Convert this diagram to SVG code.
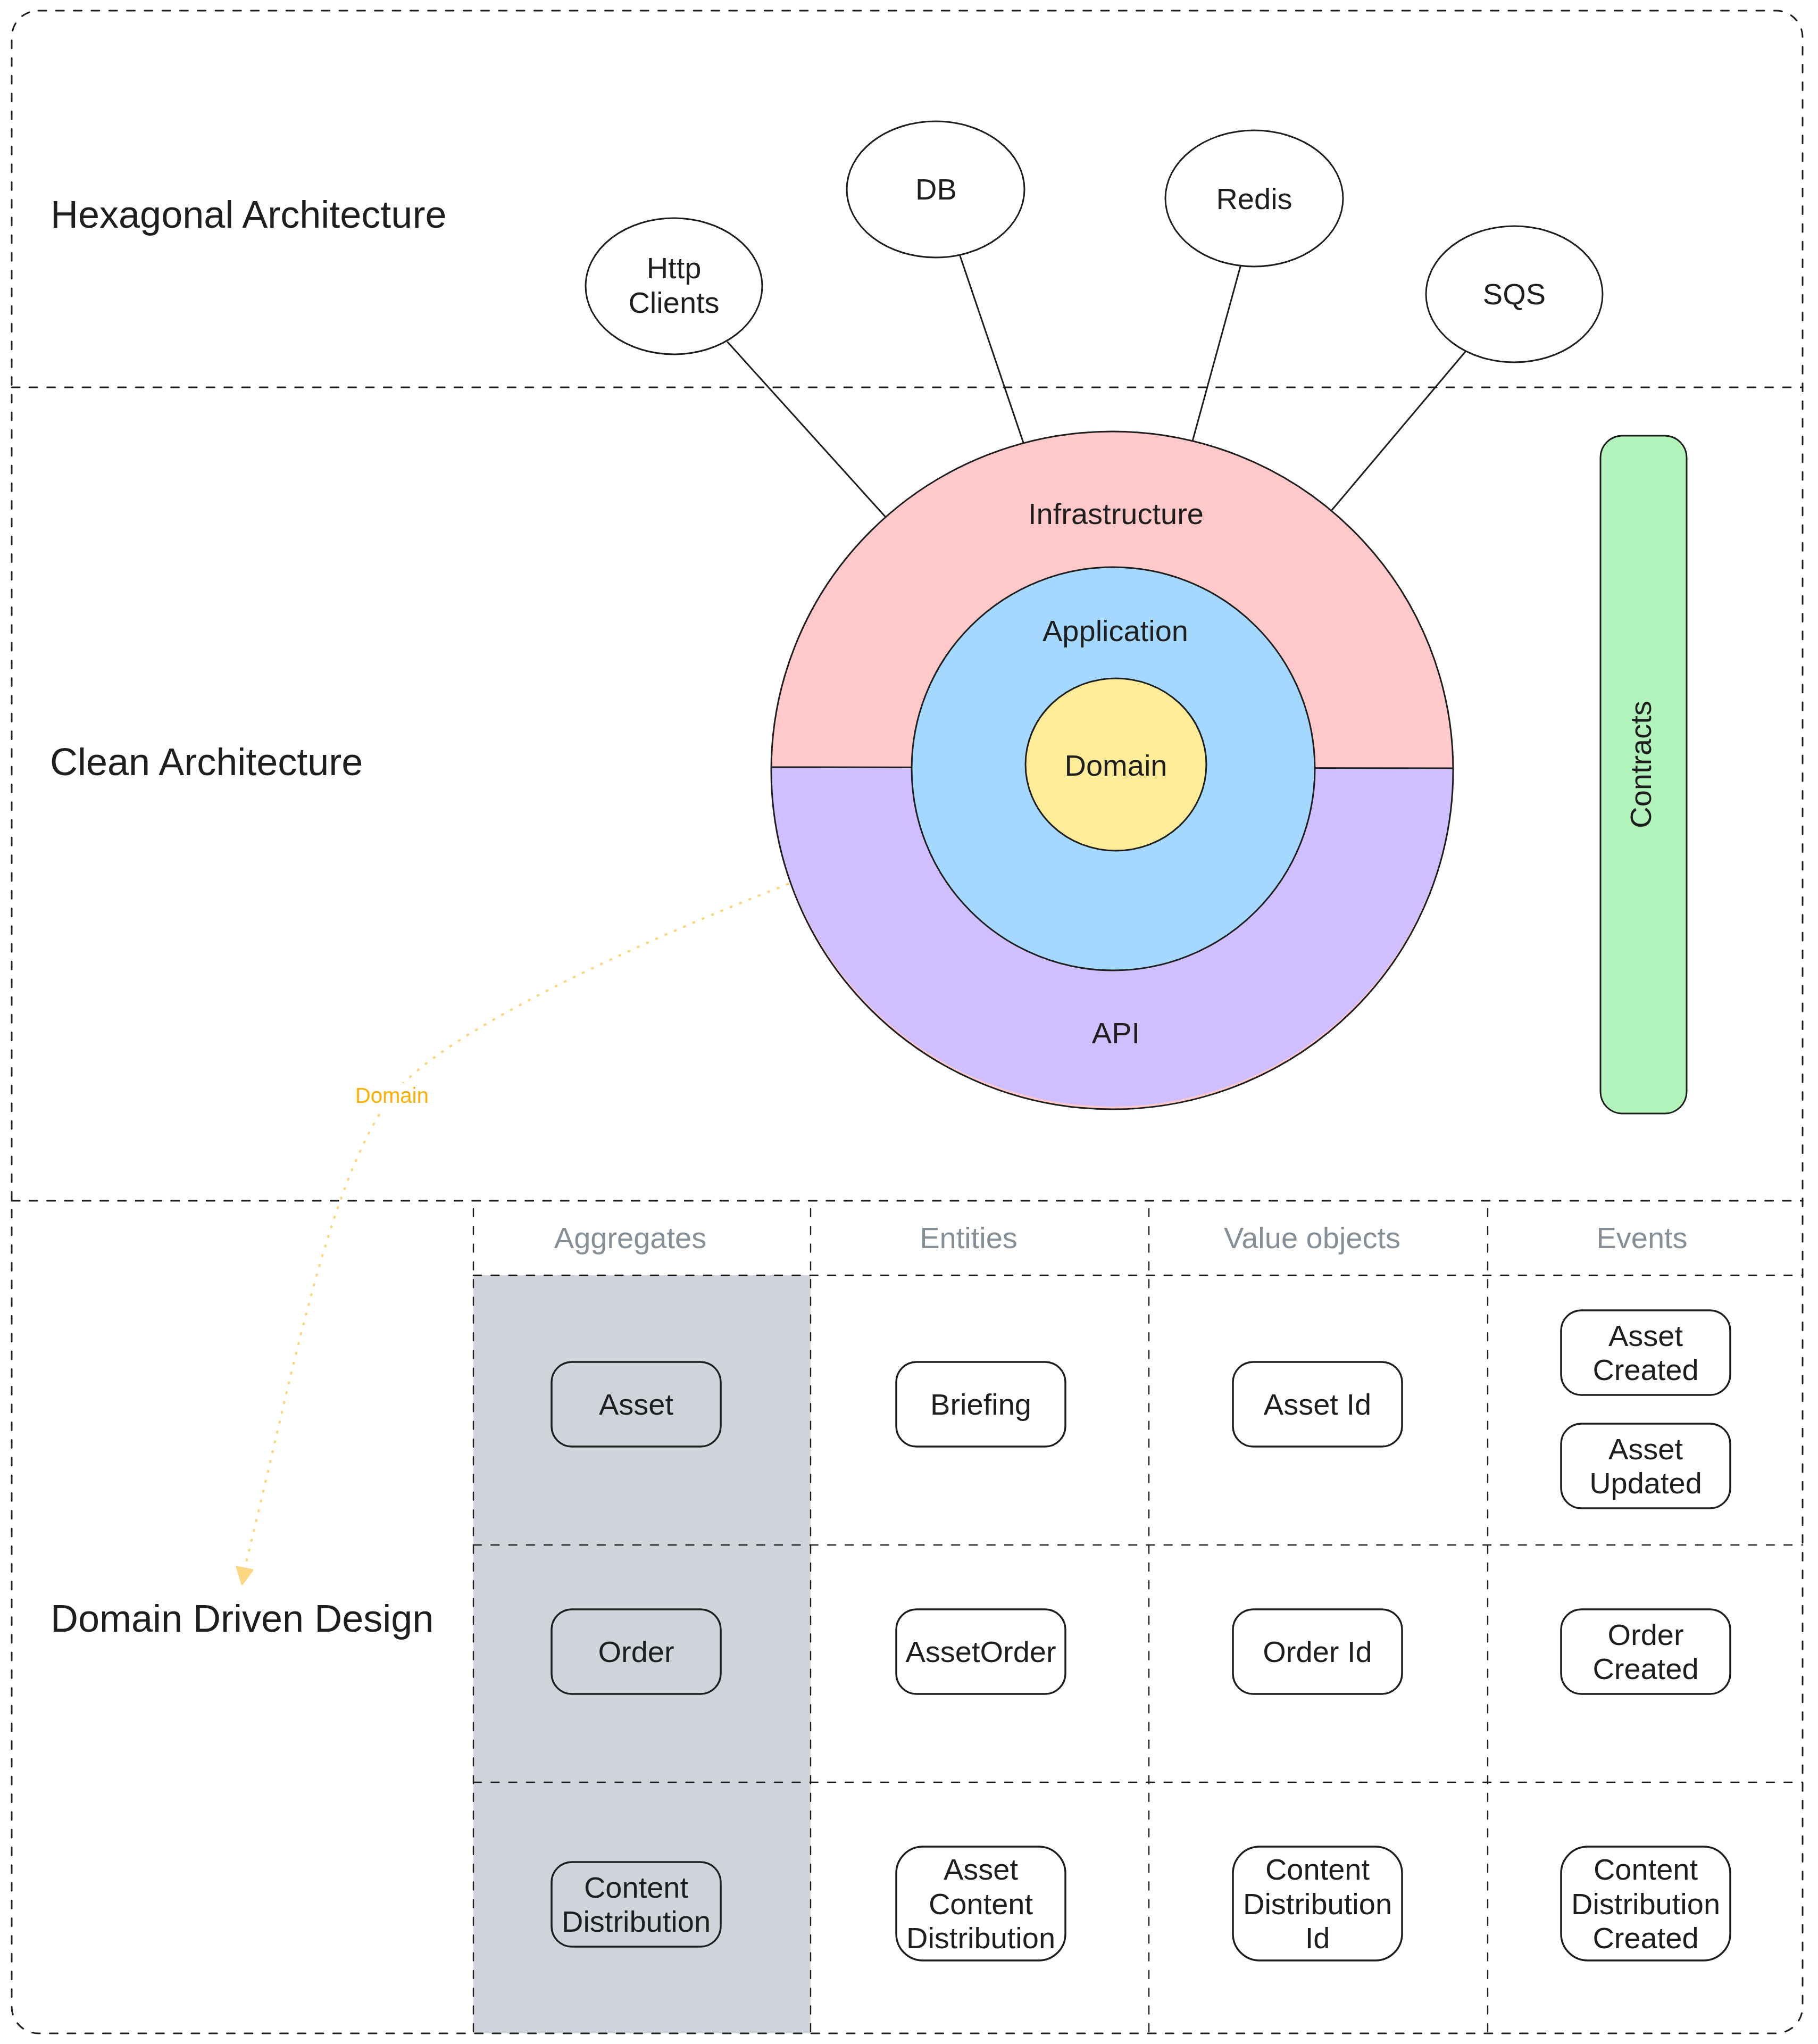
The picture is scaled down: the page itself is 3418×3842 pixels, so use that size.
<svg xmlns="http://www.w3.org/2000/svg" width="3418" height="3842" viewBox="0 0 3418 3842">
<style>
.t{font-family:"Liberation Sans",Arial,Helvetica,sans-serif;fill:#1e1e1e}
.big{font-size:72px}
.m{font-size:56px;text-anchor:middle}
.hd{font-size:56px;text-anchor:middle;fill:#868e96}
.sec{fill:none;stroke:#1e1e1e;stroke-width:3;stroke-dasharray:15 18.3;stroke-linecap:round}
.grid{fill:none;stroke:#1e1e1e;stroke-width:2.4;stroke-dasharray:15 18.3;stroke-linecap:round}
.sh{stroke:#1e1e1e;stroke-width:3}
.box{fill:#ffffff;stroke:#1e1e1e;stroke-width:3.5}
.gbox{fill:#ced4da;stroke:#1e1e1e;stroke-width:3.5}
.ln{stroke:#1e1e1e;stroke-width:3;fill:none;stroke-linecap:round}
</style>
<rect width="3418" height="3842" fill="#ffffff"/>

<g id="frame">
<rect x="890" y="2397" width="634" height="1425" fill="#ced4da"/>
<rect class="sec" x="22" y="20" width="3367" height="3802" rx="50"/>
<line class="sec" x1="22" y1="728" x2="3389" y2="728"/>
<line class="sec" x1="22" y1="2257" x2="3389" y2="2257"/>
</g>

<g id="grid">
<line class="grid" x1="890" y1="2272" x2="890" y2="3822"/>
<line class="grid" x1="1524" y1="2272" x2="1524" y2="3822"/>
<line class="grid" x1="2160" y1="2272" x2="2160" y2="3822"/>
<line class="grid" x1="2797" y1="2272" x2="2797" y2="3822"/>
<line class="grid" x1="890" y1="2397" x2="3389" y2="2397"/>
<line class="grid" x1="890" y1="2904" x2="3389" y2="2904"/>
<line class="grid" x1="890" y1="3350" x2="3389" y2="3350"/>
</g>

<g id="section-titles">
<text class="t big" x="95" y="428">Hexagonal Architecture</text>
<text class="t big" x="94" y="1457">Clean Architecture</text>
<text class="t big" x="95" y="3067">Domain Driven Design</text>
</g>

<g id="headers">
<text class="t hd" x="1185" y="2346">Aggregates</text>
<text class="t hd" x="1821" y="2346">Entities</text>
<text class="t hd" x="2467" y="2346">Value objects</text>
<text class="t hd" x="3087" y="2346">Events</text>
</g>

<g id="connectors">
<line class="ln" x1="1368" y1="643" x2="1666" y2="973"/>
<line class="ln" x1="1805" y1="481" x2="1924" y2="832"/>
<line class="ln" x1="2332" y1="501" x2="2242" y2="829"/>
<line class="ln" x1="2755" y1="661" x2="2503" y2="960"/>
<g id="domain-arrow" opacity="0.5">
<path d="M1481,1662 C1201,1771 828,1941 737,2060 C615,2219 545,2608 460,2948" fill="none" stroke="#fab005" stroke-width="4.5" stroke-dasharray="1.5 17.5" stroke-linecap="round"/>
<path d="M455,2978 L445,2945 L475,2951 Z" fill="#fab005" stroke="#fab005" stroke-width="3" stroke-linejoin="round"/>
</g>
<rect x="668" y="2036" width="140" height="52" fill="#ffffff"/>
<text class="t" x="737" y="2073" font-size="40" text-anchor="middle" fill="#fab005" style="fill:#fab005">Domain</text>
</g>

<g id="http-clients">
<ellipse class="sh" cx="1267" cy="538" rx="166" ry="128" fill="#ffffff"/>
<text class="t m" x="1267" y="523">Http</text>
<text class="t m" x="1267" y="588">Clients</text>
</g>
<g id="db">
<ellipse class="sh" cx="1759" cy="356" rx="167" ry="128" fill="#ffffff"/>
<text class="t m" x="1760" y="375">DB</text>
</g>
<g id="redis">
<ellipse class="sh" cx="2358" cy="373" rx="167" ry="128" fill="#ffffff"/>
<text class="t m" x="2358" y="393">Redis</text>
</g>
<g id="sqs">
<ellipse class="sh" cx="2847" cy="553" rx="166" ry="128" fill="#ffffff"/>
<text class="t m" x="2847" y="572">SQS</text>
</g>

<g id="infrastructure">
<ellipse cx="2091" cy="1448" rx="641" ry="637" fill="#ffc9c9"/>
<text class="t m" x="2098" y="985">Infrastructure</text>
</g>
<g id="api">
<path d="M1450,1443 A641,637 0 1,0 2732,1443 Z" fill="#d0bfff"/>
<ellipse class="sh" cx="2091" cy="1448" rx="641" ry="637" fill="none"/>
<line class="sh" x1="1450" y1="1442" x2="2732" y2="1444"/>
<text class="t m" x="2098" y="1961">API</text>
</g>
<g id="application">
<circle class="sh" cx="2093" cy="1445" r="379" fill="#a5d8ff"/>
<text class="t m" x="2097" y="1205">Application</text>
</g>
<g id="domain">
<ellipse class="sh" cx="2098" cy="1437" rx="170" ry="162" fill="#ffec99"/>
<text class="t m" x="2098" y="1458">Domain</text>
</g>

<g id="contracts">
<rect class="sh" x="3009" y="819" width="162" height="1274" rx="41" fill="#b2f2bb"/>
<text class="t m" transform="translate(3104,1437) rotate(-90)" x="0" y="0">Contracts</text>
</g>

<g id="agg-asset">
<rect class="gbox" x="1037" y="2560" width="318" height="159" rx="38"/>
<text class="t m" x="1196" y="2659">Asset</text>
</g>
<g id="agg-order">
<rect class="gbox" x="1037" y="3025" width="318" height="159" rx="38"/>
<text class="t m" x="1196" y="3124">Order</text>
</g>
<g id="agg-content-distribution">
<rect class="gbox" x="1037" y="3500" width="318" height="159" rx="38"/>
<text class="t m" x="1196" y="3567">Content</text>
<text class="t m" x="1196" y="3631">Distribution</text>
</g>

<g id="ent-briefing">
<rect class="box" x="1685" y="2560" width="318" height="159" rx="38"/>
<text class="t m" x="1844" y="2659">Briefing</text>
</g>
<g id="ent-assetorder">
<rect class="box" x="1685" y="3025" width="318" height="159" rx="38"/>
<text class="t m" x="1844" y="3124">AssetOrder</text>
</g>
<g id="ent-asset-content-distribution">
<rect class="box" x="1685" y="3471" width="318" height="214" rx="50"/>
<text class="t m" x="1844" y="3533">Asset</text>
<text class="t m" x="1844" y="3598">Content</text>
<text class="t m" x="1844" y="3662">Distribution</text>
</g>

<g id="vo-asset-id">
<rect class="box" x="2318" y="2560" width="318" height="159" rx="38"/>
<text class="t m" x="2477" y="2659">Asset Id</text>
</g>
<g id="vo-order-id">
<rect class="box" x="2318" y="3025" width="318" height="159" rx="38"/>
<text class="t m" x="2477" y="3124">Order Id</text>
</g>
<g id="vo-content-distribution-id">
<rect class="box" x="2318" y="3471" width="318" height="214" rx="50"/>
<text class="t m" x="2477" y="3533">Content</text>
<text class="t m" x="2477" y="3598">Distribution</text>
<text class="t m" x="2477" y="3662">Id</text>
</g>

<g id="ev-asset-created">
<rect class="box" x="2935" y="2463" width="318" height="159" rx="38"/>
<text class="t m" x="3094" y="2530">Asset</text>
<text class="t m" x="3094" y="2594">Created</text>
</g>
<g id="ev-asset-updated">
<rect class="box" x="2935" y="2676" width="318" height="159" rx="38"/>
<text class="t m" x="3094" y="2743">Asset</text>
<text class="t m" x="3094" y="2807">Updated</text>
</g>
<g id="ev-order-created">
<rect class="box" x="2935" y="3025" width="318" height="159" rx="38"/>
<text class="t m" x="3094" y="3092">Order</text>
<text class="t m" x="3094" y="3156">Created</text>
</g>
<g id="ev-content-distribution-created">
<rect class="box" x="2935" y="3471" width="318" height="214" rx="50"/>
<text class="t m" x="3094" y="3533">Content</text>
<text class="t m" x="3094" y="3598">Distribution</text>
<text class="t m" x="3094" y="3662">Created</text>
</g>
</svg>
